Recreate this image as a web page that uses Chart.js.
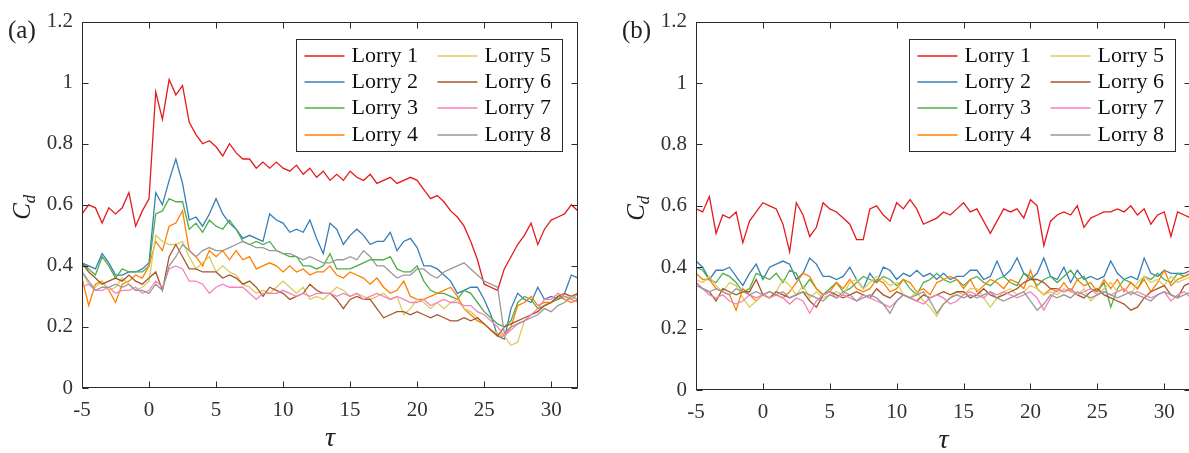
<!DOCTYPE html>
<html>
<head>
  <title>Lorry drag coefficients</title>
  <script src="https://cdn.jsdelivr.net/npm/chart.js"></script>
  <style>
    body {
        margin: 0;
        background-color: #ffffff;
        width: 1189px;
        height: 453px;
        overflow: hidden;
        position: relative;
    }

    canvas {
        position: absolute;
        top: 0;
    }

    #chartA { left: 0; }
    #chartB { left: 590px; }
  </style>
</head>
<body>

    <canvas id="chartA" width="600" height="453"></canvas>
    <canvas id="chartB" width="601" height="453"></canvas>

    <script>
        // tau axis, sampled every half unit
        const tau = [
            -5, -4.5, -4, -3.5, -3, -2.5, -2, -1.5, -1, -0.5,
            0, 0.5, 1, 1.5, 2, 2.5, 3, 3.5, 4, 4.5,
            5, 5.5, 6, 6.5, 7, 7.5, 8, 8.5, 9, 9.5,
            10, 10.5, 11, 11.5, 12, 12.5, 13, 13.5, 14, 14.5,
            15, 15.5, 16, 16.5, 17, 17.5, 18, 18.5, 19, 19.5,
            20, 20.5, 21, 21.5, 22, 22.5, 23, 23.5, 24, 24.5,
            25, 25.5, 26, 26.5, 27, 27.5, 28, 28.5, 29, 29.5,
            30, 30.5, 31, 31.5, 32
        ];

        const xTickValues = [-5, 0, 5, 10, 15, 20, 25, 30];
        const yTickValues = [0, 0.2, 0.4, 0.6, 0.8, 1, 1.2];

        const lorryNames = ['Lorry 1', 'Lorry 2', 'Lorry 3', 'Lorry 4', 'Lorry 5', 'Lorry 6', 'Lorry 7', 'Lorry 8'];
        const lorryColors = ['#e41a1c', '#377eb8', '#4daf4a', '#ff7f00', '#dccb5e', '#a65628', '#f781bf', '#999999'];

        // (a) Cd of each lorry
        const cdA1 = [
            0.57, 0.60, 0.59, 0.54, 0.59, 0.57, 0.59, 0.64, 0.53, 0.58,
            0.62, 0.97, 0.88, 1.01, 0.96, 0.99, 0.87, 0.83, 0.80, 0.81,
            0.79, 0.76, 0.80, 0.77, 0.75, 0.75, 0.72, 0.74, 0.72, 0.74,
            0.72, 0.71, 0.73, 0.70, 0.72, 0.69, 0.71, 0.68, 0.70, 0.68,
            0.71, 0.69, 0.68, 0.70, 0.67, 0.68, 0.69, 0.67, 0.68, 0.69,
            0.68, 0.65, 0.62, 0.63, 0.61, 0.58, 0.56, 0.53, 0.48, 0.42,
            0.34, 0.33, 0.32, 0.39, 0.43, 0.47, 0.50, 0.54, 0.47, 0.52,
            0.55, 0.56, 0.57, 0.60, 0.58
        ];
        const cdA2 = [
            0.41, 0.40, 0.39, 0.44, 0.41, 0.37, 0.37, 0.38, 0.38, 0.39,
            0.41, 0.64, 0.60, 0.68, 0.75, 0.67, 0.55, 0.56, 0.53, 0.57,
            0.62, 0.57, 0.54, 0.52, 0.49, 0.50, 0.49, 0.48, 0.57, 0.55,
            0.54, 0.51, 0.52, 0.51, 0.55, 0.49, 0.44, 0.54, 0.52, 0.47,
            0.50, 0.52, 0.50, 0.47, 0.48, 0.48, 0.51, 0.45, 0.48, 0.49,
            0.46, 0.40, 0.40, 0.39, 0.37, 0.35, 0.31, 0.32, 0.33, 0.33,
            0.29, 0.24, 0.17, 0.16, 0.26, 0.31, 0.29, 0.28, 0.33, 0.29,
            0.30, 0.29, 0.31, 0.37, 0.36
        ];
        const cdA3 = [
            0.41, 0.39, 0.37, 0.43, 0.40, 0.36, 0.39, 0.38, 0.38, 0.38,
            0.40, 0.57, 0.58, 0.62, 0.61, 0.61, 0.52, 0.54, 0.51, 0.55,
            0.53, 0.52, 0.55, 0.52, 0.48, 0.47, 0.48, 0.47, 0.48, 0.45,
            0.44, 0.43, 0.43, 0.40, 0.40, 0.39, 0.40, 0.44, 0.39, 0.39,
            0.39, 0.40, 0.41, 0.42, 0.42, 0.42, 0.43, 0.39, 0.38, 0.38,
            0.40, 0.35, 0.32, 0.31, 0.31, 0.30, 0.29, 0.32, 0.31, 0.28,
            0.25, 0.23, 0.21, 0.20, 0.22, 0.28, 0.30, 0.29, 0.26, 0.27,
            0.28, 0.29, 0.30, 0.29, 0.31
        ];
        const cdA4 = [
            0.36, 0.27, 0.34, 0.35, 0.32, 0.28, 0.34, 0.35, 0.37, 0.36,
            0.40, 0.48, 0.45, 0.53, 0.54, 0.58, 0.45, 0.43, 0.40, 0.45,
            0.43, 0.45, 0.42, 0.45, 0.42, 0.43, 0.39, 0.40, 0.41, 0.40,
            0.38, 0.40, 0.38, 0.39, 0.37, 0.38, 0.38, 0.40, 0.37, 0.36,
            0.38, 0.37, 0.36, 0.34, 0.36, 0.33, 0.31, 0.32, 0.35, 0.30,
            0.29, 0.29, 0.30, 0.31, 0.32, 0.33, 0.30, 0.26, 0.24, 0.22,
            0.21, 0.19, 0.17, 0.17, 0.20, 0.27, 0.28, 0.30, 0.27, 0.28,
            0.28, 0.30, 0.29, 0.28, 0.29
        ];
        const cdA5 = [
            0.38, 0.34, 0.33, 0.35, 0.32, 0.33, 0.36, 0.34, 0.32, 0.33,
            0.35, 0.50, 0.48, 0.47, 0.47, 0.48, 0.43, 0.39, 0.41, 0.43,
            0.38, 0.40, 0.38, 0.37, 0.34, 0.33, 0.31, 0.32, 0.31, 0.33,
            0.35, 0.33, 0.31, 0.33, 0.29, 0.30, 0.29, 0.31, 0.33, 0.32,
            0.30, 0.31, 0.30, 0.29, 0.30, 0.31, 0.29, 0.30, 0.24, 0.26,
            0.29, 0.28, 0.26, 0.28, 0.26, 0.28, 0.29, 0.26, 0.25, 0.23,
            0.21, 0.19, 0.18, 0.17, 0.14, 0.15, 0.22, 0.24, 0.25, 0.27,
            0.28, 0.30, 0.31, 0.29, 0.31
        ];
        const cdA6 = [
            0.41, 0.38, 0.36, 0.34, 0.35, 0.36, 0.35, 0.37, 0.35, 0.34,
            0.36, 0.38, 0.32, 0.43, 0.47, 0.43, 0.39, 0.39, 0.38, 0.38,
            0.38, 0.36, 0.37, 0.36, 0.34, 0.35, 0.33, 0.30, 0.33, 0.32,
            0.31, 0.29, 0.30, 0.31, 0.34, 0.32, 0.31, 0.31, 0.29, 0.26,
            0.29, 0.30, 0.29, 0.29, 0.26, 0.23, 0.24, 0.25, 0.25, 0.24,
            0.25, 0.24, 0.23, 0.24, 0.23, 0.22, 0.22, 0.23, 0.22, 0.23,
            0.21, 0.19, 0.17, 0.20, 0.21, 0.22, 0.23, 0.24, 0.25, 0.27,
            0.28, 0.30, 0.31, 0.30, 0.31
        ];
        const cdA7 = [
            0.33, 0.34, 0.32, 0.32, 0.33, 0.31, 0.32, 0.32, 0.33, 0.31,
            0.32, 0.35, 0.33, 0.39, 0.40, 0.39, 0.35, 0.35, 0.34, 0.31,
            0.33, 0.34, 0.33, 0.33, 0.33, 0.31, 0.29, 0.31, 0.31, 0.31,
            0.32, 0.31, 0.30, 0.31, 0.30, 0.31, 0.31, 0.31, 0.30, 0.31,
            0.30, 0.31, 0.29, 0.30, 0.31, 0.30, 0.29, 0.30, 0.29, 0.28,
            0.28, 0.29, 0.27, 0.28, 0.29, 0.28, 0.28, 0.27, 0.27, 0.25,
            0.24, 0.22, 0.20, 0.17, 0.19, 0.21, 0.22, 0.24, 0.26, 0.29,
            0.29, 0.31, 0.30, 0.29, 0.28
        ];
        const cdA8 = [
            0.38, 0.35, 0.32, 0.33, 0.33, 0.34, 0.33, 0.34, 0.32, 0.32,
            0.31, 0.34, 0.32, 0.40, 0.43, 0.47, 0.45, 0.43, 0.45, 0.46,
            0.45, 0.45, 0.46, 0.47, 0.48, 0.47, 0.46, 0.46, 0.45, 0.45,
            0.44, 0.44, 0.43, 0.42, 0.43, 0.42, 0.41, 0.41, 0.42, 0.42,
            0.43, 0.42, 0.45, 0.43, 0.40, 0.40, 0.38, 0.36, 0.37, 0.37,
            0.39, 0.39, 0.37, 0.36, 0.38, 0.39, 0.40, 0.41, 0.39, 0.37,
            0.35, 0.34, 0.33, 0.18, 0.20, 0.21, 0.22, 0.23, 0.24, 0.26,
            0.25, 0.27, 0.28, 0.30, 0.29
        ];

        // (b) Cd of each lorry
        const cdB1 = [
            0.59, 0.58, 0.63, 0.51, 0.57, 0.56, 0.58, 0.48, 0.55, 0.58,
            0.61, 0.60, 0.59, 0.54, 0.45, 0.61, 0.57, 0.50, 0.53, 0.61,
            0.59, 0.58, 0.56, 0.54, 0.49, 0.49, 0.59, 0.60, 0.57, 0.55,
            0.61, 0.59, 0.62, 0.59, 0.54, 0.55, 0.56, 0.58, 0.57, 0.59,
            0.61, 0.58, 0.59, 0.55, 0.51, 0.55, 0.59, 0.58, 0.59, 0.56,
            0.62, 0.60, 0.47, 0.55, 0.57, 0.58, 0.57, 0.60, 0.53, 0.56,
            0.57, 0.58, 0.58, 0.59, 0.58, 0.60, 0.57, 0.59, 0.54, 0.57,
            0.58, 0.50, 0.58, 0.57, 0.56
        ];
        const cdB2 = [
            0.42, 0.40, 0.36, 0.39, 0.39, 0.40, 0.37, 0.34, 0.38, 0.41,
            0.36, 0.40, 0.41, 0.42, 0.41, 0.36, 0.38, 0.43, 0.41, 0.37,
            0.37, 0.36, 0.37, 0.40, 0.36, 0.33, 0.38, 0.35, 0.40, 0.39,
            0.36, 0.38, 0.37, 0.39, 0.37, 0.38, 0.36, 0.38, 0.36, 0.37,
            0.37, 0.39, 0.39, 0.36, 0.37, 0.42, 0.37, 0.39, 0.43, 0.38,
            0.36, 0.38, 0.43, 0.37, 0.36, 0.40, 0.35, 0.39, 0.36, 0.37,
            0.36, 0.37, 0.42, 0.38, 0.36, 0.37, 0.36, 0.43, 0.38, 0.37,
            0.39, 0.38, 0.38, 0.38, 0.39
        ];
        const cdB3 = [
            0.40, 0.39, 0.36, 0.35, 0.38, 0.37, 0.35, 0.32, 0.33, 0.38,
            0.37, 0.36, 0.38, 0.35, 0.39, 0.38, 0.33, 0.36, 0.33, 0.31,
            0.33, 0.35, 0.32, 0.33, 0.35, 0.37, 0.36, 0.35, 0.37, 0.36,
            0.34, 0.36, 0.33, 0.31, 0.35, 0.36, 0.38, 0.36, 0.35, 0.36,
            0.34, 0.36, 0.37, 0.35, 0.34, 0.36, 0.37, 0.35, 0.34, 0.38,
            0.37, 0.34, 0.36, 0.37, 0.35, 0.37, 0.39, 0.36, 0.37, 0.33,
            0.32, 0.35, 0.27, 0.33, 0.36, 0.35, 0.33, 0.37, 0.36, 0.38,
            0.36, 0.35, 0.38, 0.37, 0.38
        ];
        const cdB4 = [
            0.38, 0.36, 0.36, 0.33, 0.32, 0.31, 0.26, 0.33, 0.31, 0.29,
            0.31, 0.32, 0.31, 0.30, 0.32, 0.35, 0.38, 0.37, 0.33, 0.31,
            0.32, 0.35, 0.33, 0.36, 0.33, 0.32, 0.33, 0.36, 0.35, 0.32,
            0.33, 0.36, 0.35, 0.32, 0.33, 0.31, 0.35, 0.36, 0.37, 0.36,
            0.33, 0.36, 0.32, 0.34, 0.36, 0.35, 0.33, 0.36, 0.35, 0.33,
            0.39, 0.33, 0.31, 0.33, 0.32, 0.35, 0.32, 0.36, 0.34, 0.35,
            0.32, 0.36, 0.33, 0.36, 0.32, 0.35, 0.33, 0.36, 0.32, 0.35,
            0.39, 0.34, 0.36, 0.37, 0.38
        ];
        const cdB5 = [
            0.36, 0.35, 0.37, 0.34, 0.32, 0.35, 0.34, 0.30, 0.27, 0.29,
            0.31, 0.30, 0.32, 0.36, 0.34, 0.31, 0.34, 0.30, 0.32, 0.30,
            0.31, 0.32, 0.31, 0.35, 0.36, 0.33, 0.35, 0.37, 0.36, 0.34,
            0.35, 0.31, 0.30, 0.32, 0.29, 0.27, 0.24, 0.28, 0.30, 0.32,
            0.31, 0.33, 0.33, 0.30, 0.27, 0.30, 0.32, 0.33, 0.31, 0.32,
            0.34, 0.33, 0.31, 0.32, 0.31, 0.33, 0.32, 0.31, 0.33, 0.29,
            0.31, 0.33, 0.35, 0.32, 0.33, 0.31, 0.35, 0.37, 0.35, 0.36,
            0.34, 0.37, 0.35, 0.36, 0.37
        ];
        const cdB6 = [
            0.35, 0.33, 0.32, 0.29, 0.33, 0.32, 0.31, 0.32, 0.32, 0.36,
            0.31, 0.30, 0.32, 0.31, 0.30, 0.31, 0.32, 0.29, 0.27, 0.31,
            0.32, 0.31, 0.30, 0.31, 0.32, 0.31, 0.30, 0.33, 0.31, 0.30,
            0.32, 0.31, 0.30, 0.29, 0.31, 0.30, 0.31, 0.32, 0.31, 0.32,
            0.32, 0.30, 0.31, 0.33, 0.31, 0.30, 0.31, 0.32, 0.33, 0.35,
            0.36, 0.36, 0.35, 0.33, 0.33, 0.32, 0.33, 0.31, 0.30, 0.32,
            0.33, 0.31, 0.30, 0.29, 0.28, 0.26, 0.27, 0.30, 0.32, 0.33,
            0.34, 0.31, 0.30, 0.34, 0.35
        ];
        const cdB7 = [
            0.35, 0.33, 0.31, 0.30, 0.31, 0.29, 0.28, 0.29, 0.31, 0.30,
            0.31, 0.30, 0.31, 0.30, 0.28, 0.30, 0.29, 0.25, 0.29, 0.31,
            0.32, 0.30, 0.31, 0.30, 0.29, 0.31, 0.30, 0.29, 0.28, 0.27,
            0.29, 0.31, 0.30, 0.29, 0.28, 0.30, 0.31, 0.30, 0.28, 0.29,
            0.31, 0.32, 0.31, 0.30, 0.32, 0.31, 0.32, 0.31, 0.30, 0.31,
            0.32, 0.30, 0.26, 0.30, 0.33, 0.32, 0.33, 0.31, 0.32, 0.33,
            0.31, 0.32, 0.31, 0.32, 0.33, 0.31, 0.32, 0.31, 0.30, 0.31,
            0.32, 0.29, 0.31, 0.32, 0.30
        ];
        const cdB8 = [
            0.34, 0.33, 0.32, 0.33, 0.32, 0.31, 0.33, 0.32, 0.31, 0.32,
            0.31, 0.32, 0.31, 0.32, 0.30, 0.31, 0.32, 0.31, 0.30, 0.29,
            0.31, 0.30, 0.32, 0.31, 0.29, 0.30, 0.31, 0.30, 0.28, 0.25,
            0.29, 0.31, 0.30, 0.31, 0.32, 0.29, 0.25, 0.28, 0.30, 0.31,
            0.30, 0.31, 0.30, 0.31, 0.32, 0.30, 0.29, 0.30, 0.31, 0.32,
            0.29, 0.26, 0.28, 0.31, 0.30, 0.31, 0.30, 0.32, 0.31, 0.30,
            0.31, 0.32, 0.31, 0.30, 0.31, 0.32, 0.31, 0.30, 0.29, 0.31,
            0.32, 0.31, 0.30, 0.31, 0.32
        ];

        const axisColor = '#2b2b2b';
        const textColor = '#333333';
        const serif = '"Liberation Serif", "Times New Roman", serif';

        // box around the plot with inward ticks on all four sides
        const framePlugin = {
            id: 'frame',
            afterDraw(chart) {
                const { ctx, chartArea: a, scales: { x, y } } = chart;
                const tick = 6;
                const l = Math.round(a.left) + 0.5, r = Math.round(a.right) - 0.5;
                const t = Math.round(a.top) + 0.5, b = Math.round(a.bottom) - 0.5;
                ctx.save();
                ctx.strokeStyle = axisColor;
                ctx.lineWidth = 1;
                ctx.strokeRect(l, t, r - l, b - t);
                ctx.beginPath();
                xTickValues.forEach(v => {
                    const px = Math.round(x.getPixelForValue(v)) + 0.5;
                    ctx.moveTo(px, b); ctx.lineTo(px, b - tick);
                    ctx.moveTo(px, t); ctx.lineTo(px, t + tick);
                });
                yTickValues.forEach(v => {
                    const py = Math.round(y.getPixelForValue(v)) + 0.5;
                    ctx.moveTo(l, py); ctx.lineTo(l + tick, py);
                    ctx.moveTo(r, py); ctx.lineTo(r - tick, py);
                });
                ctx.stroke();
                ctx.restore();
            }
        };

        // two-column legend in the upper right corner
        const boxLegend = {
            id: 'boxLegend',
            afterDatasetsDraw(chart) {
                const { ctx, chartArea: a } = chart;
                const w = 266, h = 112;
                const left = Math.round(a.right - 16 - w) + 0.5;
                const top = Math.round(a.top + 17) + 0.5;
                ctx.save();
                ctx.fillStyle = '#ffffff';
                ctx.fillRect(left, top, w, h);
                ctx.strokeStyle = axisColor;
                ctx.lineWidth = 1;
                ctx.strokeRect(left, top, w, h);
                ctx.font = '22px ' + serif;
                ctx.textBaseline = 'alphabetic';
                chart.data.datasets.forEach((ds, i) => {
                    const col = Math.floor(i / 4), row = i % 4;
                    const x0 = left + 8 + col * 133;
                    const yc = Math.round(top + 16.5 + row * 26.2);
                    ctx.strokeStyle = ds.borderColor;
                    ctx.lineWidth = 1.5;
                    ctx.beginPath();
                    ctx.moveTo(x0, yc);
                    ctx.lineTo(x0 + 40, yc);
                    ctx.stroke();
                    ctx.fillStyle = '#111111';
                    ctx.fillText(ds.label, x0 + 47, yc + 6);
                });
                ctx.restore();
            }
        };

        // panel tag and axis titles
        const decor = {
            id: 'decor',
            afterDraw(chart, args, opts) {
                const { ctx, chartArea: a } = chart;
                ctx.save();
                ctx.fillStyle = '#222222';
                ctx.textBaseline = 'alphabetic';
                ctx.font = '25px ' + serif;
                ctx.fillText(opts.tag, a.left - 74, a.top + 16);

                ctx.textAlign = 'center';
                ctx.font = 'italic 28px ' + serif;
                ctx.fillText('\u03c4', (a.left + a.right) / 2, a.bottom + 58);

                ctx.textAlign = 'left';
                ctx.translate(a.left - 52, (a.top + a.bottom) / 2 + 15);
                ctx.rotate(-Math.PI / 2);
                ctx.font = 'italic 25px ' + serif;
                ctx.fillText('C', 0, 0);
                const cw = ctx.measureText('C').width;
                ctx.font = 'italic 17px ' + serif;
                ctx.fillText('d', cw, 5);
                ctx.restore();
            }
        };

        function makeChart(id, series, opts) {
            const datasets = series.map((s, i) => ({
                label: lorryNames[i],
                data: tau.map((t, k) => ({ x: t, y: s[k] })),
                borderColor: lorryColors[i],
                borderWidth: 1.3,
                pointRadius: 0,
                tension: 0,
                order: series.length - i
            }));

            return new Chart(document.getElementById(id), {
                type: 'line',
                data: { datasets: datasets },
                options: {
                    responsive: false,
                    animation: false,
                    events: [],
                    layout: { padding: { top: opts.top, right: opts.right, left: 0, bottom: 0 } },
                    plugins: {
                        legend: { display: false },
                        tooltip: { enabled: false },
                        decor: { tag: opts.tag }
                    },
                    scales: {
                        x: {
                            type: 'linear',
                            min: -5,
                            max: 32,
                            grid: { display: false, drawTicks: false },
                            border: { display: false },
                            afterBuildTicks: s => { s.ticks = xTickValues.map(v => ({ value: v })); },
                            afterFit: s => { s.height = opts.xHeight; },
                            ticks: {
                                padding: 10,
                                autoSkip: false,
                                maxRotation: 0,
                                color: textColor,
                                font: { family: serif, size: 21 },
                                callback: v => String(v)
                            }
                        },
                        y: {
                            min: 0,
                            max: 1.2,
                            grid: { display: false, drawTicks: false },
                            border: { display: false },
                            afterBuildTicks: s => { s.ticks = yTickValues.map(v => ({ value: v })); },
                            afterFit: s => { s.width = opts.yWidth; },
                            ticks: {
                                padding: 9,
                                autoSkip: false,
                                color: textColor,
                                font: { family: serif, size: 21 },
                                callback: v => String(v)
                            }
                        }
                    }
                },
                plugins: [framePlugin, boxLegend, decor]
            });
        }

        makeChart('chartA', [cdA1, cdA2, cdA3, cdA4, cdA5, cdA6, cdA7, cdA8],
            { tag: '(a)', top: 18.5, right: 22, xHeight: 65, yWidth: 82 });
        makeChart('chartB', [cdB1, cdB2, cdB3, cdB4, cdB5, cdB6, cdB7, cdB8],
            { tag: '(b)', top: 20.5, right: 0, xHeight: 63, yWidth: 106 });
    </script>

</body>
</html>
